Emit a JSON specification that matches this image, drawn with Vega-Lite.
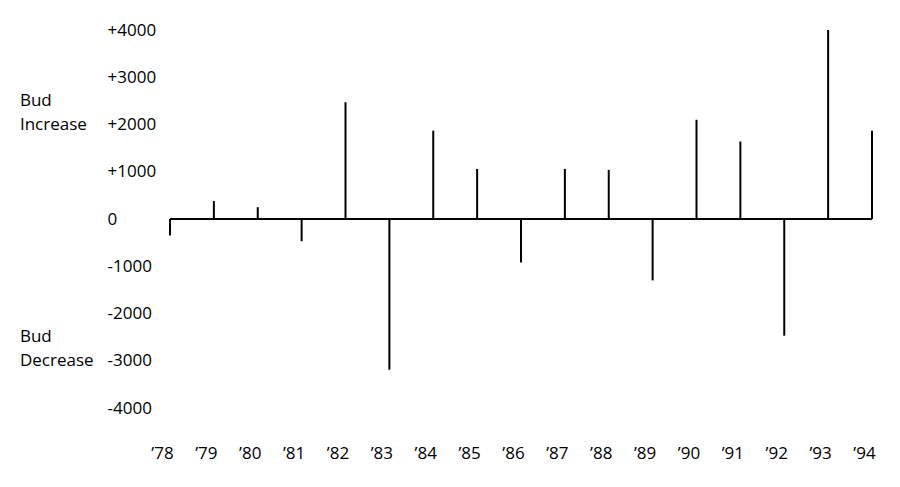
{
  "$schema": "https://vega.github.io/schema/vega-lite/v6.json",
  "width": 702,
  "height": 378,
  "autosize": {"type": "none"},
  "padding": {"left": 170, "top": 30, "right": 28, "bottom": 79},
  "background": "white",
  "config": {
    "view": {"stroke": null},
    "font": "Open Sans",
    "axis": {"grid": false, "domain": false, "ticks": false, "tickSize": 0, "title": null, "labelFont": "Open Sans", "labelFontSize": 17, "labelColor": "black"}
  },
  "datasets": {
    "budget": [
      {"year": 1978, "change": -350},
      {"year": 1979, "change": 380},
      {"year": 1980, "change": 250},
      {"year": 1981, "change": -470},
      {"year": 1982, "change": 2470},
      {"year": 1983, "change": -3190},
      {"year": 1984, "change": 1870},
      {"year": 1985, "change": 1060},
      {"year": 1986, "change": -920},
      {"year": 1987, "change": 1060},
      {"year": 1988, "change": 1040},
      {"year": 1989, "change": -1300},
      {"year": 1990, "change": 2100},
      {"year": 1991, "change": 1640},
      {"year": 1992, "change": -2470},
      {"year": 1993, "change": 4000},
      {"year": 1994, "change": 1870}
    ],
    "notes": [
      {"text": "Bud", "level": 2500},
      {"text": "Increase", "level": 2000},
      {"text": "Bud", "level": -2500},
      {"text": "Decrease", "level": -3000}
    ],
    "baseline": [
      {"start": 1978, "end": 1994, "level": 0}
    ]
  },
  "layer": [
    {
      "data": {"name": "budget"},
      "mark": {"type": "rule", "color": "black", "strokeWidth": 2},
      "encoding": {
        "x": {
          "field": "year", "type": "quantitative",
          "scale": {"domain": [1978, 1994], "nice": false, "zero": false},
          "axis": {
            "values": [1978,1979,1980,1981,1982,1983,1984,1985,1986,1987,1988,1989,1990,1991,1992,1993,1994],
            "format": "d",
            "labelExpr": "'\u2019' + slice(datum.label, 2)",
            "labelPadding": 37,
            "labelOffset": -8,
            "labelFlush": false,
            "labelOverlap": false
          }
        },
        "y": {
          "field": "change", "type": "quantitative",
          "scale": {"domain": [-4000, 4000], "nice": false},
          "axis": {
            "values": [-4000,-3000,-2000,-1000,0,1000,2000,3000,4000],
            "labelExpr": "datum.value > 0 ? '+' + toString(datum.value) : toString(datum.value)",
            "labelAlign": "left",
            "labelPadding": 63,
            "labelBaseline": "middle"
          }
        },
        "y2": {"datum": 0}
      }
    },
    {
      "data": {"name": "baseline"},
      "mark": {"type": "rule", "color": "black", "strokeWidth": 2},
      "encoding": {
        "x": {"field": "start", "type": "quantitative"},
        "x2": {"field": "end"},
        "y": {"field": "level", "type": "quantitative"}
      }
    },
    {
      "data": {"name": "notes"},
      "mark": {"type": "text", "align": "left", "baseline": "middle", "font": "Open Sans", "fontSize": 17, "color": "black", "clip": false},
      "encoding": {
        "x": {"datum": 1974.58, "type": "quantitative"},
        "y": {"field": "level", "type": "quantitative"},
        "text": {"field": "text"}
      }
    }
  ]
}
